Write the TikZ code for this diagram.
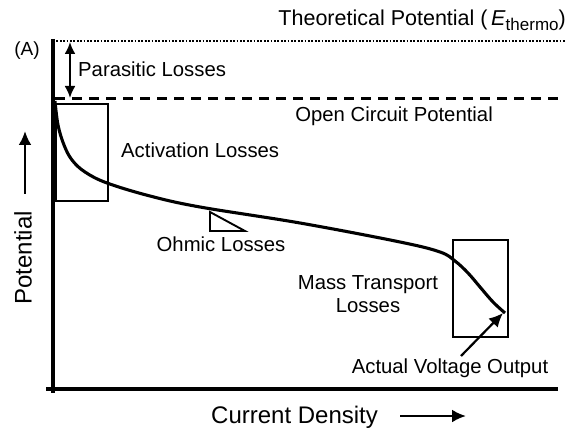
\documentclass[tikz,border=0pt]{standalone}
\usepackage{fontspec}
\setmainfont{Liberation Sans}
\usetikzlibrary{arrows.meta}
\begin{document}
\begin{tikzpicture}[x=1pt,y=-1pt,
  lbl/.style={inner sep=0pt,font=\fontsize{20.3}{23}\selectfont},
  big/.style={inner sep=0pt,font=\fontsize{24}{27}\selectfont},
  axis/.style={line width=3.4pt},
  lossbox/.style={draw,line width=1.9pt},
  tip/.style={-{Latex[length=14pt,width=13pt]}},
  dtip/.style={{Latex[length=12pt,width=11pt]}-{Latex[length=12pt,width=11pt]}}]
\useasboundingbox (0,0) rectangle (569,430);
% reference lines
\coordinate (dotL) at (53,41);
\coordinate (dotR) at (565,41);
\coordinate (dashL) at (55,99);
\coordinate (dashR) at (562,99);
\draw[line width=2.4pt,dash pattern=on 1.8pt off 1.6pt] (dotL) -- (dotR);
\draw[line width=3pt,dash pattern=on 10pt off 7pt] (dashL) -- (dashR);
% axes
\coordinate (ytop) at (53,39);
\coordinate (ybot) at (53,393);
\coordinate (xstart) at (46,389);
\coordinate (xend) at (558,389);
\draw[axis] (ytop) -- (ybot);
\draw[axis] (xstart) -- (xend);
% boxes
\node[lossbox,minimum width=52pt,minimum height=97pt,inner sep=0pt,anchor=north west] (actbox) at (55,103) {};
\node[lossbox,minimum width=55pt,minimum height=97pt,inner sep=0pt,anchor=north west] (massbox) at (452,239) {};
% polarization curve
\draw[line width=3.1pt] plot[smooth,tension=0.6] coordinates {(55,101) (58,125) (64,145) (72,160) (85,172) (107,183) (150,196) (200,207) (300,223) (400,242) (440,252) (455,261) (468,273) (480,287) (493,302) (505,313)};
\coordinate (curveEnd) at (503,313);
% ohmic triangle
\draw[line width=1.9pt] (210,212) -- (210,231) -- (245,231) -- cycle;
% parasitic arrow
\coordinate (parTop) at (70,42);
\coordinate (parBot) at (70,98);
\draw[dtip,line width=2.2pt] (parTop) -- (parBot);
% texts
\node[inner sep=0pt,font=\fontsize{21.5}{24}\selectfont,anchor=east] (theo) at (566,20) {Theoretical Potential (\,\textit{E}\raisebox{-5pt}{\fontsize{17}{17}\selectfont thermo})};
\node[inner sep=0pt,font=\fontsize{19}{22}\selectfont] (A) at (27,51) {(A)};
\node[lbl,anchor=west] (par) at (78,69) {Parasitic Losses};
\node[lbl,anchor=east] (ocp) at (493,116) {Open Circuit Potential};
\node[lbl,anchor=west] (act) at (121,150) {Activation Losses};
\node[lbl] (ohm) at (221,244) {Ohmic Losses};
\node[lbl,align=center] (mass) at (368,294) {Mass Transport\\Losses};
\node[lbl] (avo) at (450,368) {Actual Voltage Output};
\node[big,anchor=west] (cd) at (211,417) {Current Density};
\node[big,rotate=90] (pot) at (23,258) {Potential};
% axis direction arrows
\coordinate (ya) at (25,194);
\coordinate (yb) at (25,131);
\draw[tip,line width=2.6pt] (ya) -- (yb);
\coordinate (xa) at (400,416);
\coordinate (xb) at (466,416);
\draw[tip,line width=2.6pt] (xa) -- (xb);
% actual voltage arrow
\coordinate (avoTail) at (461,356);
\draw[tip,line width=2.2pt] (avoTail) -- (curveEnd);
\end{tikzpicture}
\end{document}
